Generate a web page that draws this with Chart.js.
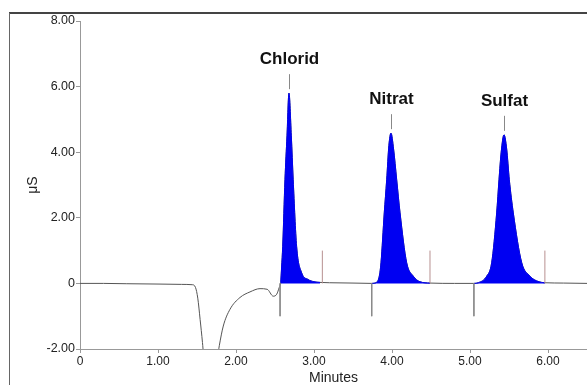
<!DOCTYPE html>
<html><head><meta charset="utf-8">
<script src="https://cdn.jsdelivr.net/npm/chart.js@4/dist/chart.umd.min.js"></script>
<style>html,body{margin:0;padding:0;background:#fff;}</style>
</head><body>
<canvas id="c" width="587" height="385"></canvas>
<script>
// ---- data ----
const traceTimes  = [0, 0.3, 0.6, 1.0, 1.3, 1.44, 1.48, 1.51, 1.54, 1.57, 1.60, 1.66, 1.72, 1.76, 1.786, 1.837, 1.923, 2.051, 2.179, 2.308, 2.40, 2.478, 2.522, 2.555, 2.573,
  2.585, 2.599, 2.628, 2.654, 2.679, 2.709, 2.733, 2.777, 2.842, 2.923, 3.0, 3.077, 3.2, 3.5, 3.74,
  3.80, 3.837, 3.859, 3.901, 3.932, 3.96, 3.987, 4.02, 4.060, 4.103, 4.188, 4.273, 4.359, 4.487, 4.8, 5.05,
  5.107, 5.214, 5.278, 5.342, 5.372, 5.40, 5.436, 5.47, 5.504, 5.555, 5.663, 5.769, 5.85, 5.919, 5.96, 6.2, 6.5];
const traceValues = [0.00, 0.00, -0.01, -0.02, -0.03, -0.04, -0.12, -0.45, -1.1, -1.8, -2.6, -3.2, -3.0, -2.3, -1.9, -1.3, -0.79, -0.43, -0.26, -0.16, -0.18, -0.39, -0.33, -0.12, 0.02,
  0.5, 1.13, 3.16, 4.5, 5.80, 4.5, 3.16, 1.13, 0.32, 0.12, 0.05, 0.03, 0.02, 0.01, 0.0,
  0.03, 0.22, 0.63, 2.15, 3.16, 4.2, 4.58, 4.1, 3.16, 2.15, 0.63, 0.22, 0.05, 0.01, 0.0, 0.0,
  0.02, 0.22, 0.63, 2.15, 3.16, 4.0, 4.53, 4.1, 3.16, 2.15, 0.63, 0.22, 0.08, 0.03, 0.02, 0.01, 0.0];
const peakNames      = ['Chlorid', 'Nitrat', 'Sulfat'];
const peakApexTimes  = [2.679, 3.987, 5.436];
const peakApexValues = [5.80, 4.58, 4.53];
const peakStarts     = [2.565, 3.74, 5.05];
const peakEnds       = [3.107, 4.487, 5.96];
const xTicks = [0, 1, 2, 3, 4, 5, 6];
const yTicks = [-2, 0, 2, 4, 6, 8];

// ---- chart ----
const FONT = '"Liberation Sans", Arial, sans-serif';
const BLUE = '#0000f2';
const tracePts = traceTimes.map((t, i) => ({x: t, y: traceValues[i]}));
const datasets = [{
  data: tracePts, borderColor: '#555', borderWidth: 1, pointRadius: 0,
  cubicInterpolationMode: 'monotone', fill: false, order: 3
}];
peakStarts.forEach((s, i) => {
  datasets.push({
    data: tracePts.filter(p => p.x >= s && p.x <= peakEnds[i]),
    borderColor: BLUE, backgroundColor: BLUE, borderWidth: 1, pointRadius: 0,
    cubicInterpolationMode: 'monotone', fill: 'origin', order: 1
  });
  datasets.push({
    data: [{x: s, y: 0}, {x: s, y: -1.0}], borderColor: '#8a8a8a', borderWidth: 1,
    pointRadius: 0, fill: false, order: 0
  });
  datasets.push({
    data: [{x: peakEnds[i], y: 0}, {x: peakEnds[i], y: 1.0}], borderColor: '#b89090', borderWidth: 1,
    pointRadius: 0, fill: false, order: 0
  });
});

const fmt = v => v === 0 ? '0' : v.toFixed(2);

const framePlugin = {
  id: 'frame',
  beforeDraw(chart) {
    const ctx = chart.ctx;
    ctx.save();
    ctx.fillStyle = '#fff';
    ctx.fillRect(0, 0, chart.width, chart.height);
    ctx.strokeStyle = '#444';
    ctx.lineWidth = 2;
    ctx.beginPath(); ctx.moveTo(9, 13); ctx.lineTo(chart.width, 13); ctx.stroke();
    ctx.strokeStyle = '#666';
    ctx.lineWidth = 1;
    ctx.beginPath(); ctx.moveTo(9.5, 13); ctx.lineTo(9.5, chart.height); ctx.stroke();
    ctx.restore();
  }
};
const labelPlugin = {
  id: 'peakLabels',
  afterDatasetsDraw(chart) {
    const ctx = chart.ctx, xs = chart.scales.x, ys = chart.scales.y;
    ctx.save();
    peakNames.forEach((name, i) => {
      const px = Math.round(xs.getPixelForValue(peakApexTimes[i])) + 0.5;
      const py = ys.getPixelForValue(peakApexValues[i]);
      ctx.strokeStyle = '#888'; ctx.lineWidth = 1;
      ctx.beginPath(); ctx.moveTo(px, py - 4); ctx.lineTo(px, py - 19); ctx.stroke();
      ctx.fillStyle = '#111';
      ctx.font = 'bold 17px ' + FONT;
      ctx.textAlign = 'center'; ctx.textBaseline = 'middle';
      ctx.fillText(name, px, py - 34);
    });
    ctx.restore();
  }
};

new Chart(document.getElementById('c'), {
  type: 'line',
  data: {datasets},
  plugins: [framePlugin, labelPlugin],
  options: {
    responsive: false, animation: false, devicePixelRatio: 1,
    layout: {padding: {top: 21, left: 0, right: 0, bottom: 0}},
    plugins: {legend: {display: false}, tooltip: {enabled: false}},
    scales: {
      x: {
        type: 'linear', min: 0, max: 6.5, position: 'bottom',
        afterBuildTicks: s => { s.ticks = xTicks.map(v => ({value: v})); },
        afterFit: s => { s.height = 36; },
        ticks: {callback: fmt, font: {family: FONT, size: 12}, color: '#222', maxRotation: 0, padding: 1, autoSkip: false},
        grid: {drawOnChartArea: false, tickLength: 4, color: '#999'},
        border: {color: '#999', width: 1},
        title: {display: true, text: 'Minutes', font: {family: FONT, size: 14, lineHeight: 1}, color: '#222', padding: {top: 0, bottom: 0}}
      },
      y: {
        type: 'linear', min: -2, max: 8,
        afterBuildTicks: s => { s.ticks = yTicks.map(v => ({value: v})); },
        afterFit: s => { s.width = 80; },
        ticks: {callback: fmt, font: {family: FONT, size: 12.5}, color: '#222', padding: 1, autoSkip: false},
        grid: {drawOnChartArea: false, tickLength: 4, color: '#999'},
        border: {color: '#999', width: 1},
        title: {display: true, text: 'μS', font: {family: FONT, size: 14, lineHeight: 1}, color: '#222', padding: {top: 26, bottom: 0}}
      }
    }
  }
});
</script>
</body></html>
